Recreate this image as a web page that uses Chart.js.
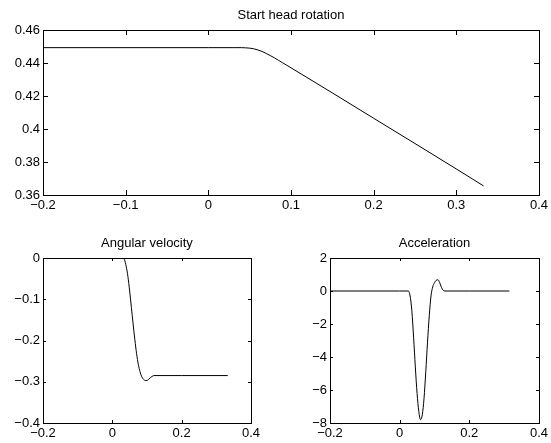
<!DOCTYPE html>
<html>
<head>
<meta charset="utf-8">
<script src="https://cdn.jsdelivr.net/npm/chart.js@4/dist/chart.umd.min.js"></script>
<style>
  html, body { margin: 0; padding: 0; background: #fff; width: 551px; height: 443px; overflow: hidden; }
  .box { position: absolute; }
</style>
</head>
<body>
<div class="box" style="left:0;top:0;width:551px;height:215px"><canvas id="c1"></canvas></div>
<div class="box" style="left:0;top:228px;width:263px;height:215px"><canvas id="c2"></canvas></div>
<div class="box" style="left:290px;top:228px;width:261px;height:215px"><canvas id="c3"></canvas></div>
<script>
// ---- data ----
const titles = ["Start head rotation", "Angular velocity", "Acceleration"];

const rotX = [-0.2, 0.0, 0.03, 0.04, 0.045, 0.05, 0.055, 0.06, 0.065, 0.07, 0.075, 0.08, 0.085, 0.09, 0.095, 0.1, 0.15, 0.2, 0.25, 0.3, 0.333];
const rotY = [0.4493, 0.4493, 0.4493, 0.4493, 0.4492, 0.4490, 0.4486, 0.4479, 0.4470, 0.4458, 0.4445, 0.4431, 0.4416, 0.4401, 0.4386, 0.4371, 0.4219, 0.4065, 0.3912, 0.3758, 0.3655];

const velX = [-0.2, 0.0, 0.03, 0.035, 0.04, 0.045, 0.05, 0.055, 0.06, 0.065, 0.07, 0.075, 0.08, 0.085, 0.09, 0.095, 0.1, 0.105, 0.11, 0.115, 0.12, 0.2, 0.333];
const velY = [0, 0, 0, -0.004, -0.02, -0.045, -0.08, -0.12, -0.16, -0.198, -0.232, -0.258, -0.276, -0.288, -0.294, -0.297, -0.297, -0.294, -0.29, -0.287, -0.285, -0.285, -0.285];

const accX = [-0.2, 0.0, 0.025, 0.03, 0.035, 0.04, 0.045, 0.05, 0.055, 0.06, 0.065, 0.07, 0.075, 0.08, 0.085, 0.09, 0.095, 0.1, 0.105, 0.11, 0.115, 0.12, 0.125, 0.13, 0.2, 0.315];
const accY = [0, 0, 0, -0.3, -1.2, -2.8, -4.6, -6.2, -7.3, -7.8, -7.5, -6.5, -4.9, -3.1, -1.5, -0.3, 0.25, 0.5, 0.65, 0.68, 0.5, 0.22, 0.04, 0, 0, 0];

const xTicksTop = [-0.2, -0.1, 0, 0.1, 0.2, 0.3, 0.4];
const yTicksTop = [0.36, 0.38, 0.4, 0.42, 0.44, 0.46];
const xTicksBottom = [-0.2, 0, 0.2, 0.4];
const yTicksVel = [-0.4, -0.3, -0.2, -0.1, 0];
const yTicksAcc = [-8, -6, -4, -2, 0, 2];

// ---- helpers ----
const FONT = { family: "'Liberation Sans', Arial, Helvetica, sans-serif", size: 13 };
const fmt = v => String(+Number(v).toFixed(3)).replace('-', '\u2212');

const framePlugin = {
  id: 'frameTicks',
  afterDraw(chart, args, opts) {
    const { ctx, chartArea: a } = chart;
    const x = chart.scales.x, y = chart.scales.y;
    const L = opts.len || 4;
    ctx.save();
    ctx.strokeStyle = '#000';
    ctx.lineWidth = 1;
    ctx.beginPath();
    x.ticks.forEach(t => {
      const p = Math.round(x.getPixelForValue(t.value)) + 0.5;
      ctx.moveTo(p, a.bottom); ctx.lineTo(p, a.bottom - L);
      ctx.moveTo(p, a.top); ctx.lineTo(p, a.top + L);
    });
    y.ticks.forEach(t => {
      const p = Math.round(y.getPixelForValue(t.value)) + 0.5;
      ctx.moveTo(a.left, p); ctx.lineTo(a.left + L, p);
      ctx.moveTo(a.right, p); ctx.lineTo(a.right - L, p);
    });
    ctx.stroke();
    ctx.strokeRect(Math.round(a.left) + 0.5, Math.round(a.top) + 0.5, Math.round(a.right - a.left), Math.round(a.bottom - a.top));
    // title
    ctx.fillStyle = '#000';
    ctx.font = FONT.size + 'px ' + FONT.family;
    ctx.textAlign = 'center';
    ctx.textBaseline = 'middle';
    ctx.fillText(opts.title, (a.left + a.right) / 2, a.top - 15);
    ctx.restore();
  }
};

function makeChart(id, xs, ys, xTicks, yTicks, title, yWidth, padRight, tickLen) {
  const data = xs.map((v, i) => ({ x: v, y: ys[i] }));
  return new Chart(document.getElementById(id), {
    type: 'line',
    data: { datasets: [{ data, borderColor: '#000', borderWidth: 1, pointRadius: 0, cubicInterpolationMode: 'monotone', fill: false }] },
    options: {
      responsive: true, maintainAspectRatio: false, animation: false,
      layout: { padding: { top: 30, right: padRight, left: 0, bottom: 0 } },
      plugins: { legend: { display: false }, tooltip: { enabled: false }, frameTicks: { title, len: tickLen } },
      scales: {
        x: {
          type: 'linear', min: xTicks[0], max: xTicks[xTicks.length - 1],
          afterBuildTicks: s => { s.ticks = xTicks.map(v => ({ value: v })); },
          afterFit: s => { s.height = 20; },
          grid: { display: false, drawTicks: false }, border: { display: false },
          ticks: { font: FONT, color: '#000', padding: 3, maxRotation: 0, autoSkip: false, callback: v => fmt(v) }
        },
        y: {
          type: 'linear', min: yTicks[0], max: yTicks[yTicks.length - 1],
          afterBuildTicks: s => { s.ticks = yTicks.map(v => ({ value: v })); },
          afterFit: s => { s.width = yWidth; },
          grid: { display: false, drawTicks: false }, border: { display: false },
          ticks: { font: FONT, color: '#000', padding: 3, autoSkip: false, callback: v => fmt(v) }
        }
      }
    },
    plugins: [framePlugin]
  });
}

makeChart('c1', rotX, rotY, xTicksTop, yTicksTop, titles[0], 43, 9, 5);
makeChart('c2', velX, velY, xTicksBottom, yTicksVel, titles[1], 43, 10, 3);
makeChart('c3', accX, accY, xTicksBottom, yTicksAcc, titles[2], 40, 9, 3);
</script>
</body>
</html>
